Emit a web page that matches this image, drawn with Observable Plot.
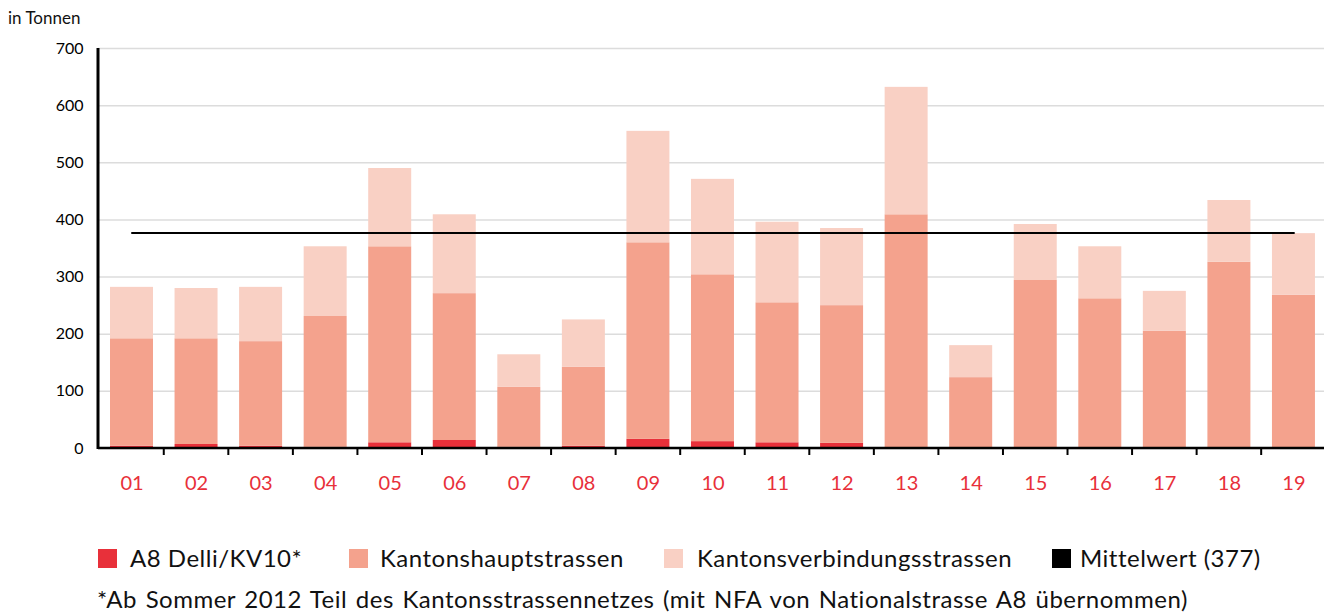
<!DOCTYPE html>
<html>
<head>
<meta charset="utf-8">
<script src="https://cdn.jsdelivr.net/npm/d3@7"></script>
<script src="https://cdn.jsdelivr.net/npm/@observablehq/plot@0.6"></script>
<style>
  html, body { margin: 0; padding: 0; background: #fff; }
  body { font-family: Lato, "Open Sans", sans-serif; width: 1324px; height: 615px; position: relative; overflow: hidden; }
  #unit { position: absolute; left: 8px; top: 7px; font-size: 17px; color: #111; line-height: 22px; }
  #chart { position: absolute; left: 0; top: 0; }
  .leg { position: absolute; top: 545px; font-size: 24px; color: #111; white-space: nowrap; line-height: 26px; letter-spacing: 0.5px; }
  .sw { position: absolute; width: 19px; height: 19px; top: 549px; }
  #note { position: absolute; left: 97px; top: 586px; font-size: 24px; color: #111; white-space: nowrap; line-height: 26px; letter-spacing: 0.5px; word-spacing: 2px; }
</style>
</head>
<body>
<div id="chart"></div>
<div id="unit">in Tonnen</div>
<div id="legend"></div>
<div id="note"></div>
<script>
// ---- data ----
const years = ["01","02","03","04","05","06","07","08","09","10","11","12","13","14","15","16","17","18","19"];
const a8Delli = [4, 7, 4, 2, 10, 14, 2, 4, 16, 12, 10, 9, 0, 0, 0, 0, 0, 0, 0];
const kantonshaupt = [188, 185, 183, 229, 343, 257, 105, 138, 344, 292, 245, 241, 409, 124, 294, 262, 205, 326, 268];
const kantonsverbindung = [90, 88, 95, 122, 137, 138, 57, 83, 195, 167, 141, 135, 223, 56, 98, 91, 70, 108, 108];
const mittelwert = 377;
const yTicks = [0, 100, 200, 300, 400, 500, 600, 700];
const seriesNames = ["A8 Delli/KV10*", "Kantonshauptstrassen", "Kantonsverbindungsstrassen"];
const seriesColors = ["#e8303a", "#f4a28d", "#f9d0c4"];
const meanLabel = "Mittelwert (377)";
const footnote = "*Ab Sommer 2012 Teil des Kantonsstrassennetzes (mit NFA von Nationalstrasse A8 übernommen)";

// ---- build table ----
const rows = [];
years.forEach((y, i) => {
  rows.push({year: y, series: seriesNames[0], value: a8Delli[i]});
  rows.push({year: y, series: seriesNames[1], value: kantonshaupt[i]});
  rows.push({year: y, series: seriesNames[2], value: kantonsverbindung[i]});
});

const W = 1324, H = 520, mL = 98, mR = 0, mT = 48, mB = 72;
const pInner = 0.334, pOuter = 0.163;

const axisLines = (index, scales, values, dims) => {
  const g = d3.create("svg:g");
  const x0 = dims.marginLeft, y0 = dims.height - dims.marginBottom;
  g.append("line").attr("x1", x0).attr("x2", x0).attr("y1", dims.marginTop).attr("y2", y0 + 1)
    .attr("stroke", "#000").attr("stroke-width", 3);
  g.append("line").attr("x1", x0).attr("x2", dims.width - dims.marginRight).attr("y1", y0).attr("y2", y0)
    .attr("stroke", "#000").attr("stroke-width", 2.5);
  return g.node();
};

const plot = Plot.plot({
  width: W, height: H,
  marginLeft: mL, marginRight: mR, marginTop: mT, marginBottom: mB,
  style: {fontFamily: "Lato, 'Open Sans', sans-serif", background: "transparent"},
  x: {domain: years, paddingInner: pInner, paddingOuter: pOuter, align: 0.57, round: false, label: null},
  y: {domain: [0, 700], label: null},
  color: {domain: seriesNames, range: seriesColors},
  marks: [
    Plot.gridY(yTicks, {stroke: "#dcdcdc", strokeOpacity: 1, strokeWidth: 1.5}),
    Plot.barY(rows, {x: "year", y: "value", fill: "series", order: seriesNames}),
    Plot.lineY([{year: years[0], v: mittelwert}, {year: years[years.length - 1], v: mittelwert}],
      {x: "year", y: "v", stroke: "#000", strokeWidth: 2}),
    Plot.axisY(yTicks, {tickSize: 0, tickPadding: 15, fontSize: 16, fill: "#000", label: null}),
    Plot.axisX({tickSize: 0, tickPadding: 27, fontSize: 20, fill: "#e8303a", label: null}),
    axisLines
  ]
});
document.getElementById("chart").appendChild(plot);

// band boundary ticks: small downward ticks from the x axis
{
  const xs = plot.scale("x");
  const svg = d3.select(plot);
  const y0 = H - mB;
  const g = svg.append("g");
  years.slice(1).forEach(c => {
    const bx = xs.apply(c) - (xs.step - xs.bandwidth) / 2;
    g.append("line").attr("x1", bx).attr("x2", bx).attr("y1", y0).attr("y2", y0 + 7)
      .attr("stroke", "#000").attr("stroke-width", 2);
  });
}

// ---- legend ----
const legendItems = [
  {label: seriesNames[0], color: seriesColors[0], sx: 98, tx: 130},
  {label: seriesNames[1], color: seriesColors[1], sx: 349, tx: 380},
  {label: seriesNames[2], color: seriesColors[2], sx: 664, tx: 697},
  {label: meanLabel, color: "#000", sx: 1052, tx: 1080}
];
const leg = document.getElementById("legend");
legendItems.forEach(it => {
  const s = document.createElement("div");
  s.className = "sw"; s.style.left = it.sx + "px"; s.style.background = it.color;
  leg.appendChild(s);
  const t = document.createElement("div");
  t.className = "leg"; t.style.left = it.tx + "px"; t.textContent = it.label;
  leg.appendChild(t);
});
document.getElementById("note").textContent = footnote;
</script>
</body>
</html>
